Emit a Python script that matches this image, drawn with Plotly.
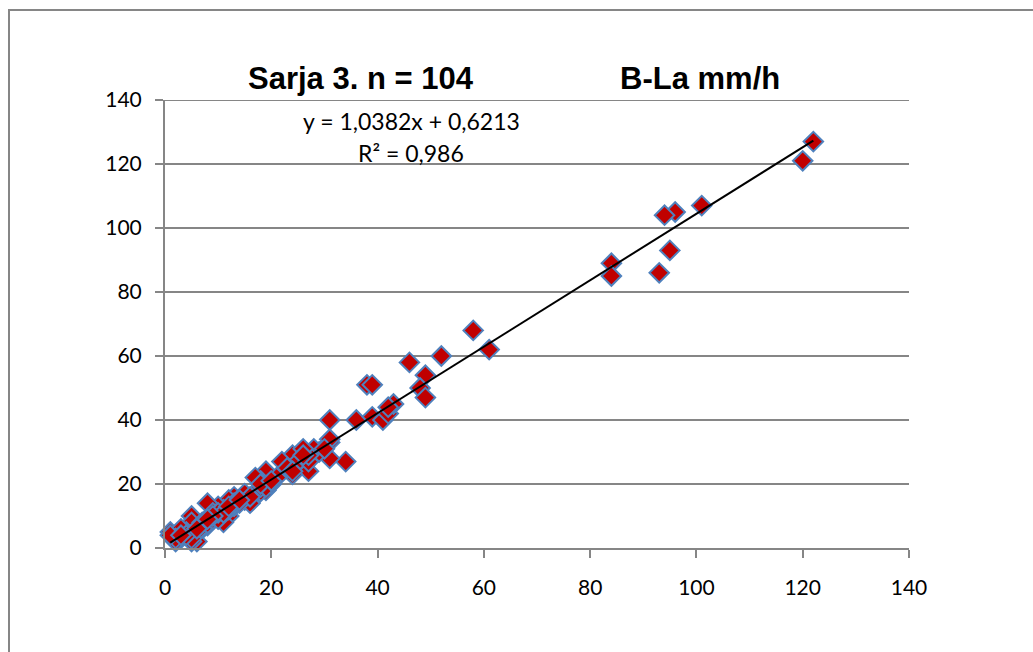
import plotly.graph_objects as go

x_vals = [122, 120, 101, 96, 94, 95, 93, 84, 84,
          58, 61, 52, 46, 49, 48, 49, 38, 39, 31, 36, 39, 41, 42, 43, 42, 31, 31,
          34, 31, 29, 28, 27, 26, 25, 24, 24, 25, 22, 27, 27, 30, 26,
          19, 18, 19, 17, 16, 17, 18, 15, 16, 14,
          13, 12, 11, 12, 10, 10, 11, 8, 7, 8,
          7, 5, 5, 6, 5, 3, 2, 1, 2, 4,
          9, 10, 13, 14, 9, 6, 3, 12, 20, 21,
          23, 19, 15,
          2, 1, 5, 10, 24, 26, 11, 13, 7, 16, 18, 4, 3, 9, 12, 14, 20, 6, 8]
y_vals = [127, 121, 107, 105, 104, 93, 86, 89, 85,
          68, 62, 60, 58, 54, 50, 47, 51, 51, 40, 40, 41, 40, 42, 45, 44, 33, 34,
          27, 28, 30, 31, 24, 30, 28, 23, 29, 27, 27, 27, 29, 31, 31,
          24, 21, 18, 16, 15, 22, 19, 15, 14, 15,
          16, 15, 12, 10, 13, 10, 8, 14, 7, 7,
          6, 10, 8, 2, 2, 3, 2, 5, 4, 5,
          9, 9, 13, 14, 11, 5, 6, 12, 20, 22,
          25, 19, 17,
          3, 4, 3, 11, 24, 29, 11, 14, 8, 16, 20, 4, 4, 10, 13, 15, 21, 6, 9]

slope = 1.0382
intercept = 0.6213
r2_text = "R² = 0,986"
eq_text = "y = 1,0382x + 0,6213"
title_left = "Sarja 3. n = 104"
title_right = "B-La mm/h"
tick_vals = [0, 20, 40, 60, 80, 100, 120, 140]

trend_x = [min(x_vals), max(x_vals)]
trend_y = [slope * v + intercept for v in trend_x]

GRID = "#868686"
fig = go.Figure()
fig.add_trace(go.Scatter(
    x=x_vals, y=y_vals, mode="markers", cliponaxis=False,
    marker=dict(symbol="diamond", size=15, color="#C00000",
                line=dict(color="#4F81BD", width=2)),
    showlegend=False, hoverinfo="x+y"))
fig.add_trace(go.Scatter(
    x=trend_x, y=trend_y, mode="lines", cliponaxis=False,
    line=dict(color="black", width=2), showlegend=False))

tickfont = dict(family="Lato, Carlito, Calibri, sans-serif", size=21, color="black")
eqfont = dict(family="Lato, Carlito, Calibri, sans-serif", size=23, color="black")
fig.update_xaxes(range=[0, 140], tickvals=tick_vals, showgrid=False, zeroline=False,
                 showline=True, linecolor=GRID, linewidth=2,
                 ticks="outside", ticklen=8, tickcolor=GRID, tickwidth=2,
                 tickfont=tickfont, ticklabelstandoff=12)
fig.update_yaxes(range=[0, 140], tickvals=tick_vals, showgrid=True, gridcolor=GRID,
                 gridwidth=2, zeroline=False,
                 showline=True, linecolor=GRID, linewidth=2,
                 ticks="outside", ticklen=8, tickcolor=GRID, tickwidth=2,
                 tickfont=tickfont, ticklabelstandoff=9)

L, R, T, B = 165, 124, 100, 104
W, H = 1033, 652
pw, ph = W - L - R, H - T - B

def px(xp):
    return (xp - L) / pw

def py(yp):
    return (H - B - yp) / ph

titlefont = dict(family="Liberation Sans, Arial, sans-serif", size=31, color="black")
annotations = [
    dict(text="<b>%s</b>" % title_left, x=px(361), y=py(78), xref="paper", yref="paper",
         showarrow=False, font=titlefont, xanchor="center", yanchor="middle"),
    dict(text="<b>%s</b>" % title_right, x=px(700), y=py(78), xref="paper", yref="paper",
         showarrow=False, font=titlefont, xanchor="center", yanchor="middle"),
    dict(text=eq_text, x=px(411), y=py(121), xref="paper", yref="paper",
         showarrow=False, font=eqfont, xanchor="center", yanchor="middle"),
    dict(text=r2_text, x=px(411), y=py(153), xref="paper", yref="paper",
         showarrow=False, font=eqfont, xanchor="center", yanchor="middle"),
]

fig.update_layout(
    width=W, height=H, margin=dict(l=L, r=R, t=T, b=B, pad=0),
    plot_bgcolor="white", paper_bgcolor="white",
    annotations=annotations,
    shapes=[
        dict(type="rect", xref="paper", yref="paper",
             x0=px(9), x1=px(1060), y0=py(680), y1=py(10),
             line=dict(color=GRID, width=2), fillcolor="rgba(0,0,0,0)", layer="below"),
        dict(type="line", xref="paper", yref="y", x0=0, x1=1,
             y0=tick_vals[-1], y1=tick_vals[-1],
             line=dict(color=GRID, width=2), layer="below"),
    ],
)

fig.write_html("out.html", config={"displayModeBar": False},
               post_script="document.body.style.margin='0';document.body.style.overflow='hidden';")
